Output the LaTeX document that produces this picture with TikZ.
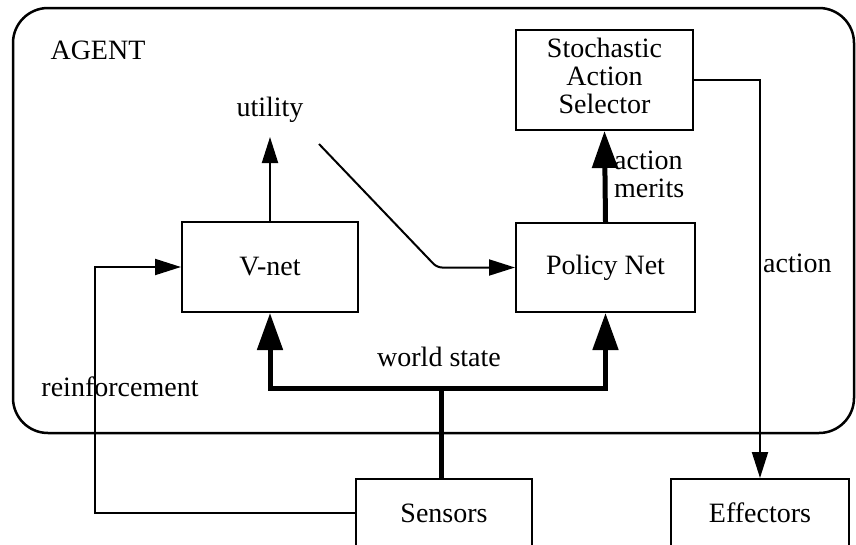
\documentclass[tikz,border=0pt]{standalone}
\usepackage{fontspec}
\setmainfont{Liberation Serif}
\usetikzlibrary{arrows.meta}
\begin{document}
\begin{tikzpicture}[x=1pt,y=-1pt,
  every node/.style={font=\fontsize{28}{28}\selectfont},
  box/.style={draw, line width=2pt, align=center, inner sep=0pt},
  lbl/.style={inner sep=0pt, align=left},
  thinline/.style={line width=2pt, -{Triangle[length=26pt,width=16pt]}},
  thickline/.style={line width=5pt, -{Triangle[length=37pt,width=25pt]}}]
\useasboundingbox (0,0) rectangle (856,544);
% agent frame
\node[draw, line width=2.5pt, rounded corners=35pt, minimum width=841pt, minimum height=425pt, inner sep=0pt] (agent) at (433.5,220.5) {};
% boxes
\node[box, minimum width=176pt, minimum height=90pt] (vnet) at (270,267) {V-net};
\node[box, minimum width=179pt, minimum height=89pt] (pol) at (605.5,267.5) {Policy Net};
\node[box, minimum width=177pt, minimum height=100pt] (stoch) at (604.5,80) {\raisebox{6pt}{\begin{tabular}{@{}c@{}}Stochastic\\Action\\Selector\end{tabular}}};
\node[box, minimum width=176pt, minimum height=68pt] (sens) at (444,513) {Sensors};
\node[box, minimum width=178pt, minimum height=68pt] (eff) at (760,513) {Effectors};
% labels
\node[lbl] (agentlbl) at (98,50) {AGENT};
\node[lbl] (util) at (270,110) {utility};
\node[lbl] (ws) at (439,357) {world state};
\node[lbl] (reinf) at (120,387) {reinforcement};
\node[lbl, anchor=west] (merits) at (614,174) {action\\merits};
\node[lbl, anchor=west] (act) at (763,263) {action};
% coordinates
\coordinate (utip) at (270,137);
\coordinate (d0) at (319,144);
\coordinate (d1) at (437,267.5);
\coordinate (rc) at (95,267);
\coordinate (bus) at (441,388);
% connectors
\draw[thinline] (vnet.north) -- (utip);
\draw[thinline, rounded corners=5pt] (d0) -- (d1) -- (pol.west);
\draw[thinline] (sens.west) -| (rc) -- (vnet.west);
\draw[line width=5pt] (sens.north -| bus) -- (bus);
\draw[thickline] (bus) -| (vnet.south);
\draw[thickline] (bus) -| (pol.south);
\draw[thickline] (pol.north) -- (stoch.south);
\draw[thinline] (stoch.east) -| (eff.north);
\end{tikzpicture}
\end{document}
